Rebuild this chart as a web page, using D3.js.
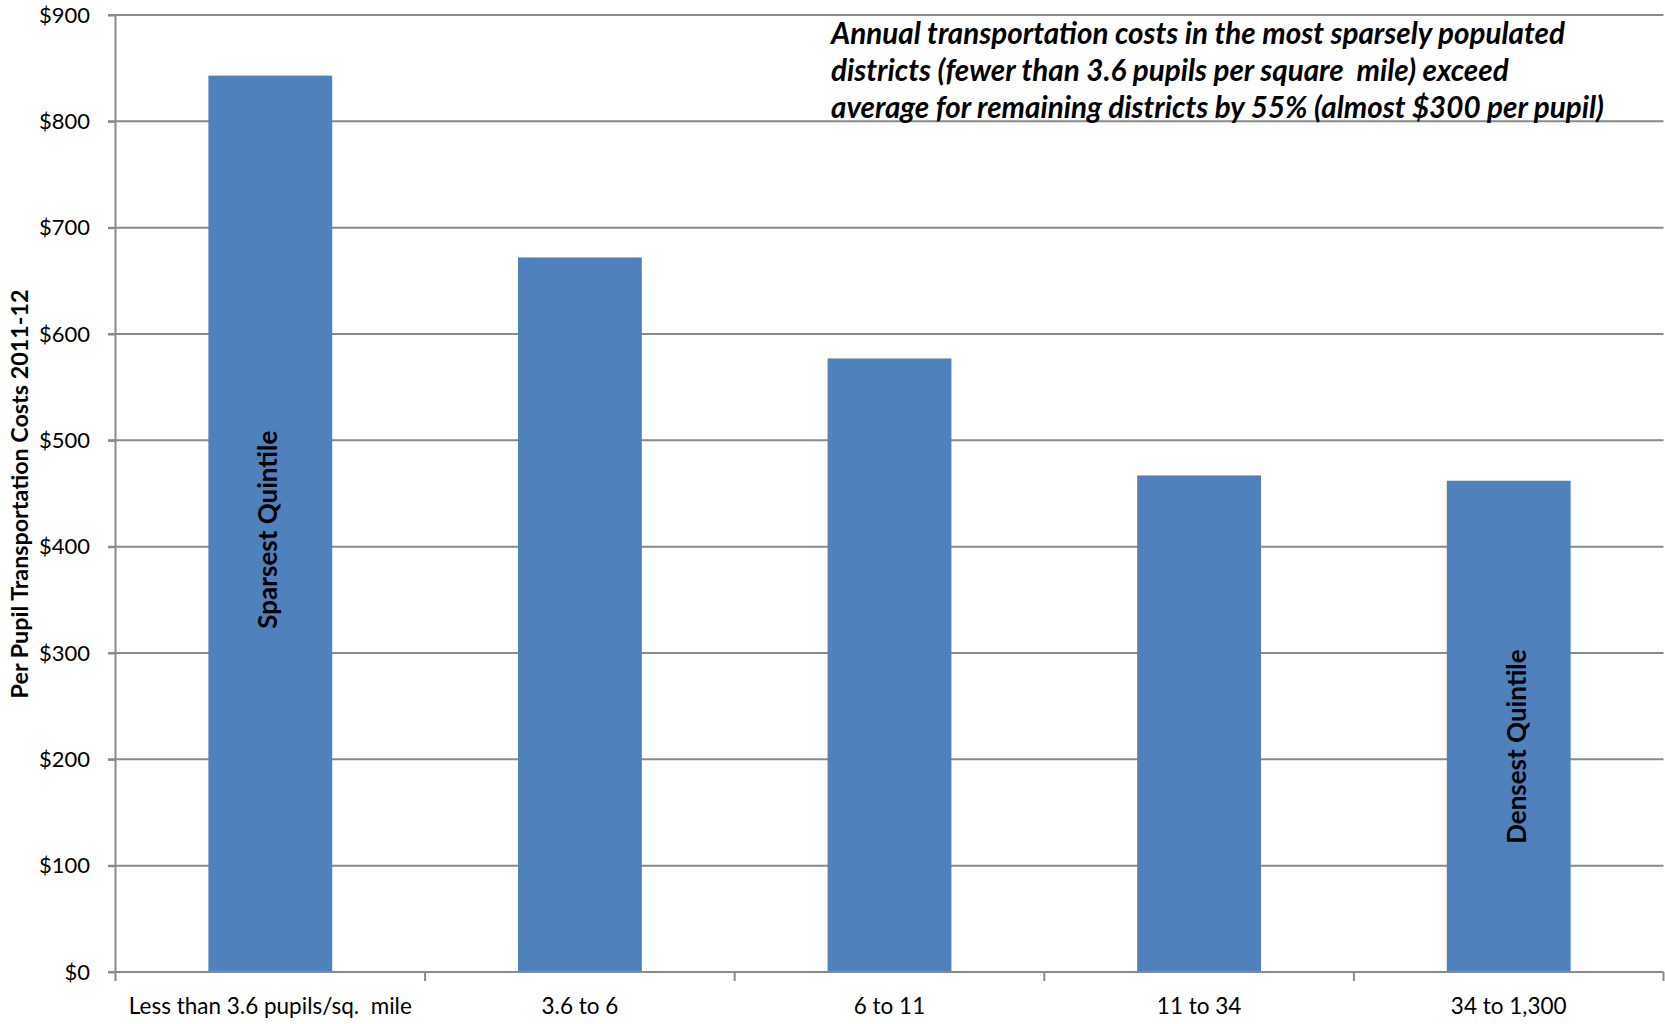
<!DOCTYPE html>
<html>
<head>
<meta charset="utf-8">
<script src="https://cdn.jsdelivr.net/npm/d3@7"></script>
<style>
  html, body { margin: 0; padding: 0; background: #fff; }
  svg { display: block; }
  text { font-family: Lato, "Open Sans", sans-serif; fill: #000; }
</style>
</head>
<body>
<svg id="chart" width="1665" height="1024"></svg>
<script>
const categories = ["Less than 3.6 pupils/sq.  mile", "3.6 to 6", "6 to 11", "11 to 34", "34 to 1,300"];
const values = [843, 672, 577, 467, 462];
const yTicks = [0, 100, 200, 300, 400, 500, 600, 700, 800, 900];
const barLabelTexts = ["Sparsest Quintile", "Densest Quintile"];
const barLabelCategories = ["Less than 3.6 pupils/sq.  mile", "34 to 1,300"];
const barLabelValues = [416, 212];
const yTitle = "Per Pupil Transportation Costs 2011-12";
const annotation = [
  "Annual transportation costs in the most sparsely populated",
  "districts (fewer than 3.6 pupils per square  mile) exceed",
  "average for remaining districts by 55% (almost $300 per pupil)"
];

const svg = d3.select("#chart");
const plotLeft = 115.5, plotRight = 1663.5, plotTop = 15, plotBottom = 972;
const gray = "#8a8a8a";
const barColor = "#4f81bd";
const barLabelDx = [7, 17.5];

const x = d3.scaleBand().domain(categories).range([plotLeft, plotRight]).paddingInner(0.6).paddingOuter(0.3);
const y = d3.scaleLinear().domain([0, 900]).range([plotBottom, plotTop]);

// gridlines
svg.append("g").selectAll("line").data(yTicks.filter(d => d > 0)).join("line")
  .attr("x1", plotLeft - 7.5).attr("x2", plotRight)
  .attr("y1", d => y(d)).attr("y2", d => y(d))
  .attr("stroke", gray).attr("stroke-width", 2);

// bars
svg.append("g").selectAll("rect").data(values).join("rect")
  .attr("x", (d, i) => x(categories[i]))
  .attr("width", x.bandwidth())
  .attr("y", d => y(d))
  .attr("height", d => y(0) - y(d))
  .attr("fill", barColor);

// y axis
const yAxis = d3.axisLeft(y).tickValues(yTicks).tickSize(7.5).tickPadding(18)
  .tickFormat(d => "$" + d);
const gy = svg.append("g").attr("transform", `translate(${plotLeft},0)`).call(yAxis);
gy.select(".domain").attr("stroke", gray).attr("stroke-width", 2)
  .attr("d", `M0,${plotTop}V${plotBottom + 9}`);
gy.selectAll(".tick line").attr("stroke", gray).attr("stroke-width", 2);
gy.selectAll(".tick text").attr("font-size", 22).attr("font-family", "Lato").attr("fill", "#000");

// x axis
const boundaries = categories.map((c, i) => plotLeft + i * x.step()).concat([plotRight]);
const gx = svg.append("g");
gx.append("line").attr("x1", plotLeft - 7.5).attr("x2", plotRight).attr("y1", plotBottom).attr("y2", plotBottom)
  .attr("stroke", gray).attr("stroke-width", 2);
gx.selectAll("line.tk").data(boundaries.slice(1)).join("line").attr("class", "tk")
  .attr("x1", d => d).attr("x2", d => d).attr("y1", plotBottom).attr("y2", plotBottom + 9)
  .attr("stroke", gray).attr("stroke-width", 2);
gx.selectAll("text").data(categories).join("text")
  .attr("x", d => x(d) + x.bandwidth() / 2)
  .attr("y", 1014)
  .attr("text-anchor", "middle")
  .attr("font-size", 22.5)
  .style("white-space", "pre")
  .text(d => d);

// bar labels (rotated)
svg.append("g").selectAll("text").data(barLabelTexts).join("text")
  .attr("transform", (d, i) => `translate(${x(barLabelCategories[i]) + x.bandwidth() / 2 + barLabelDx[i]},${y(barLabelValues[i])})rotate(-90)`)
  .attr("text-anchor", "middle")
  .attr("font-size", 26)
  .attr("font-weight", "bold")
  .text(d => d);

// y title
svg.append("text")
  .attr("transform", `translate(27.5,494)rotate(-90)`)
  .attr("text-anchor", "middle")
  .attr("font-size", 23.3)
  .attr("font-weight", "bold")
  .text(yTitle);

// annotation
svg.append("g").selectAll("text").data(annotation).join("text")
  .attr("x", 831)
  .attr("y", (d, i) => 44 + i * 36.8)
  .attr("font-size", 29.6)
  .attr("font-weight", "bold")
  .attr("font-style", "italic")
  .style("white-space", "pre")
  .text(d => d);
</script>
</body>
</html>
